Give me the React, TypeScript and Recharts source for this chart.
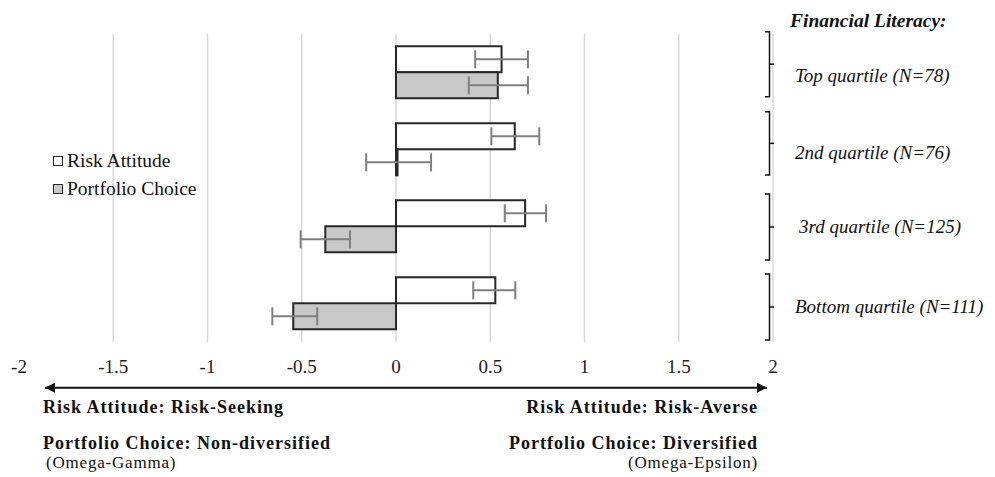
import React from 'react';
import { BarChart, Bar, XAxis, YAxis, CartesianGrid, ErrorBar, Legend } from 'recharts';

const categories = ['Top quartile (N=78)', '2nd quartile (N=76)', '3rd quartile (N=125)', 'Bottom quartile (N=111)'];
const riskAttitude = [0.56, 0.63, 0.685, 0.527];
const riskAttitudeErr = [[0.14, 0.14], [0.124, 0.13], [0.108, 0.111], [0.117, 0.106]];
const portfolioChoice = [0.54, 0.008, -0.375, -0.545];
const portfolioChoiceErr = [[0.154, 0.16], [0.166, 0.178], [0.131, 0.131], [0.111, 0.127]];
const xTicks = [-2, -1.5, -1, -0.5, 0, 0.5, 1, 1.5, 2];
const seriesNames = ['Risk Attitude', 'Portfolio Choice'];
const legendTitle = 'Financial Literacy:';

const data = categories.map((name, i) => ({
  name,
  risk: riskAttitude[i],
  riskErr: riskAttitudeErr[i],
  port: portfolioChoice[i],
  portErr: portfolioChoiceErr[i],
}));

const FONT = '"Liberation Serif", "Times New Roman", serif';
const GRAY = '#c8c8c8';
const EDGE = '#262626';

const LegendContent = () => (
  <div style={{ fontFamily: FONT, fontSize: 19.5, color: '#111' }}>
    {seriesNames.map((n, i) => (
      <div key={n} style={{ display: 'flex', alignItems: 'center', height: 28 }}>
        <span
          style={{
            display: 'inline-block',
            width: 8,
            height: 8,
            border: `1.5px solid ${EDGE}`,
            background: i === 0 ? '#fff' : GRAY,
            marginRight: 4,
          }}
        />
        <span>{n}</span>
      </div>
    ))}
  </div>
);

const gridGen = (props: any) => {
  const { xAxis, offset } = props || {};
  const vals = xTicks.filter((t) => t > -2);
  if (xAxis && typeof xAxis.scale === 'function') {
    return vals.map((t) => xAxis.scale(t));
  }
  return vals.map((t) => offset.left + ((t + 2) / 4) * offset.width);
};

export default function App() {
  const brackets = [
    [31.7, 96.7],
    [111.7, 175],
    [194, 260],
    [274, 340],
  ];
  const labelBase = [81.7, 159.3, 232.7, 313.3];
  const labelX = [795, 795, 799, 795];
  return (
    <div style={{ position: 'absolute', left: 0, top: 0, width: 995, height: 477, background: '#fff' }}>
      <div style={{ position: 'absolute', left: 0, top: 0 }}>
        <BarChart
          width={995}
          height={477}
          data={data}
          layout="vertical"
          margin={{ top: 34, left: 19, right: 222, bottom: 105 }}
          barCategoryGap="16%"
          barGap={0}
        >
          <CartesianGrid horizontal={false} stroke="#d9d9d9" strokeWidth={1.5} verticalCoordinatesGenerator={gridGen} />
          <XAxis
            type="number"
            domain={[-2, 2]}
            ticks={xTicks}
            axisLine={false}
            tickLine={false}
            height={30}
            tickMargin={12}
            interval={0}
            tick={{ fontFamily: FONT, fontSize: 19, fill: '#222' }}
          />
          <YAxis type="category" dataKey="name" hide />
          <Legend
            layout="vertical"
            align="center"
            verticalAlign="middle"
            content={<LegendContent />}
            wrapperStyle={{ left: 53, top: 147, width: 200 }}
          />
          <Bar dataKey="risk" name={seriesNames[0]} fill="#ffffff" stroke={EDGE} strokeWidth={2} isAnimationActive={false}>
            <ErrorBar dataKey="riskErr" direction="x" stroke="#7f7f7f" strokeWidth={2} width={9} />
          </Bar>
          <Bar dataKey="port" name={seriesNames[1]} fill={GRAY} stroke={EDGE} strokeWidth={2} isAnimationActive={false}>
            <ErrorBar dataKey="portErr" direction="x" stroke="#7f7f7f" strokeWidth={2} width={9} />
          </Bar>
        </BarChart>
      </div>
      <svg
        width={995}
        height={477}
        style={{ position: 'absolute', left: 0, top: 0, pointerEvents: 'none', fontFamily: FONT }}
      >
        <text x={790} y={26.7} fontSize={19.5} fontWeight="bold" fontStyle="italic" fill="#111">
          {legendTitle}
        </text>
        {brackets.map(([a, b], i) => {
          const m = (a + b) / 2;
          return (
            <g key={i} stroke="#111" strokeWidth={1.5} fill="none">
              <path d={`M765,${a} H769.5 V${b} H765`} />
              <path d={`M769.5,${m} H774`} />
            </g>
          );
        })}
        {categories.map((c, i) => (
          <text key={c} x={labelX[i]} y={labelBase[i]} fontSize={19} fontStyle="italic" fill="#111">
            {c}
          </text>
        ))}
        <defs>
          <marker id="ah" viewBox="0 0 10 10" refX="10" refY="5" markerWidth="10" markerHeight="10" markerUnits="userSpaceOnUse" orient="auto-start-reverse">
            <path d="M0,0 L10,5 L0,10 z" fill="#111" />
          </marker>
        </defs>
        <line x1={45} y1={387.7} x2={767} y2={387.7} stroke="#111" strokeWidth={2} markerStart="url(#ah)" markerEnd="url(#ah)" />
        <g fontSize={18} fontWeight="bold" fill="#111" letterSpacing={1}>
          <text x={43} y={412.7}>Risk Attitude: Risk-Seeking</text>
          <text x={43} y={448.5}>Portfolio Choice: Non-diversified</text>
          <text x={758} y={412.7} textAnchor="end">Risk Attitude: Risk-Averse</text>
          <text x={758} y={448.5} textAnchor="end">Portfolio Choice: Diversified</text>
        </g>
        <g fontSize={17} fill="#111" letterSpacing={0.8}>
          <text x={46} y={468}>(Omega-Gamma)</text>
          <text x={758} y={468} textAnchor="end">(Omega-Epsilon)</text>
        </g>
      </svg>
    </div>
  );
}
